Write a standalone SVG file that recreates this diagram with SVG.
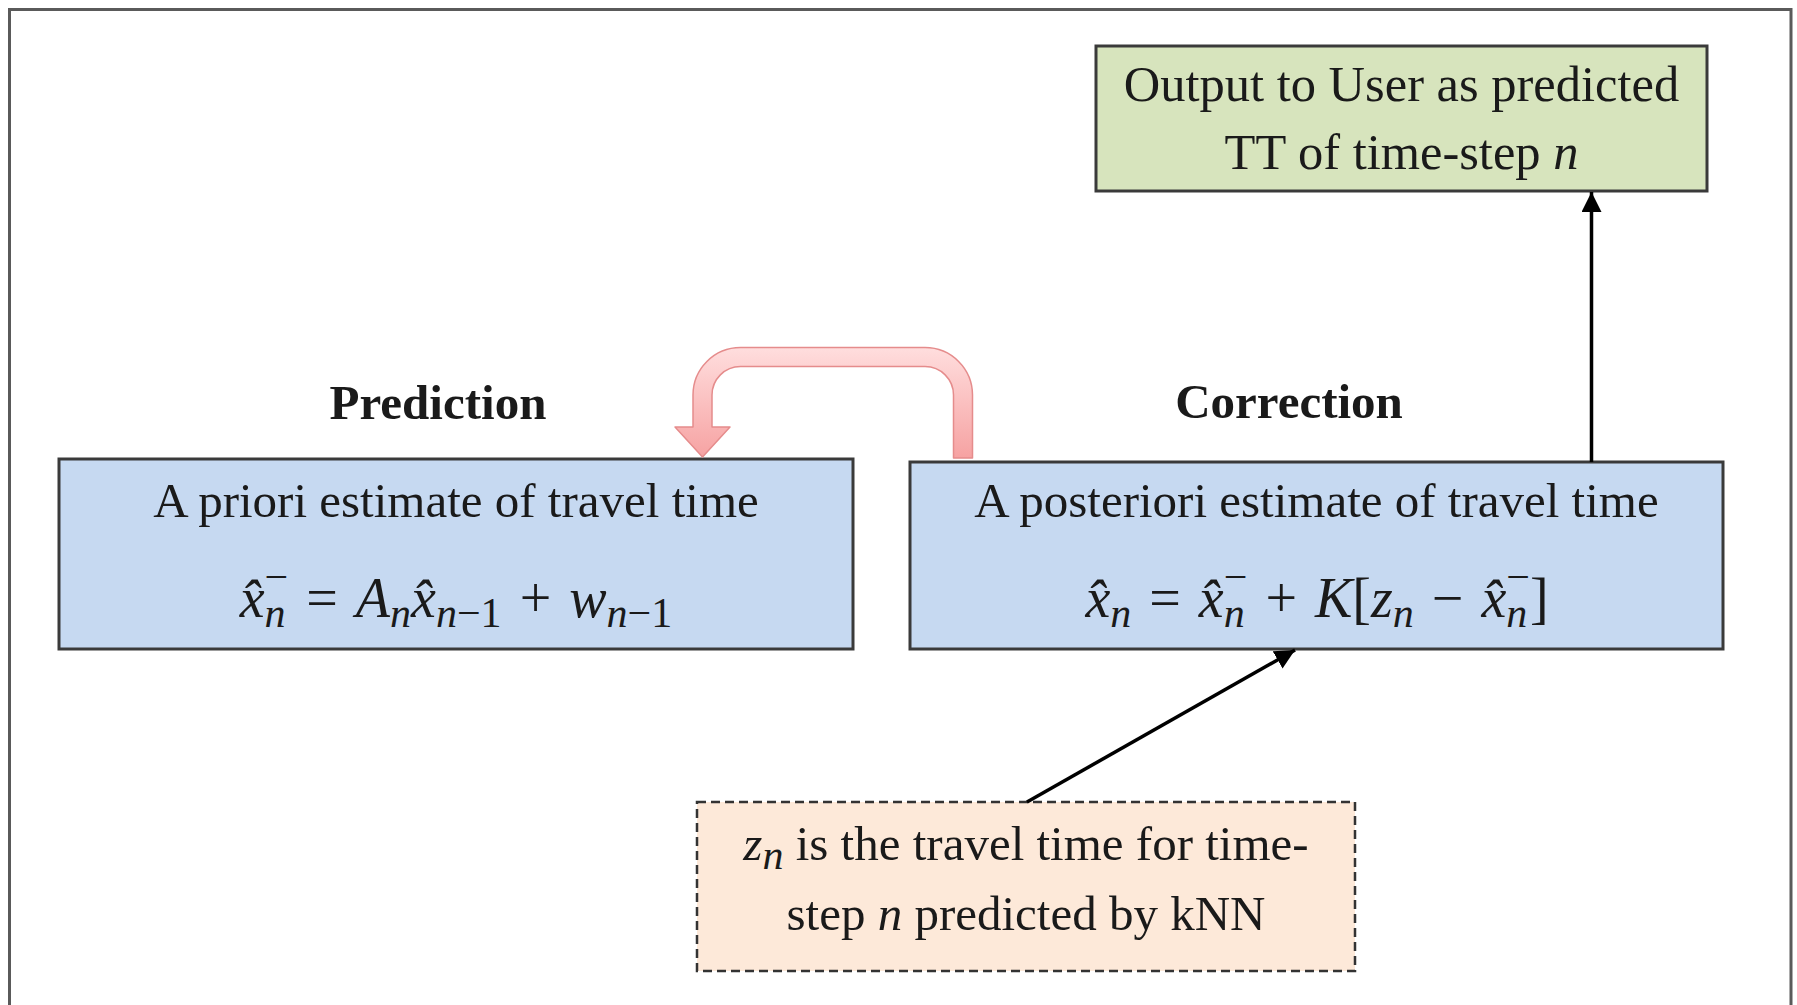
<svg xmlns="http://www.w3.org/2000/svg" width="1797" height="1005" viewBox="0 0 1797 1005">
<style>
.t{font-family:"Liberation Serif","Times New Roman",serif;font-size:49px;fill:#1a1a1a}
.g{font-size:50.5px}
.b{font-weight:bold}
.i{font-style:italic}
.m{font-size:56px}
.s{font-size:42px}
.box{stroke:#3a3a3a;stroke-width:3}
.ln{stroke:#000;stroke-width:3.5;fill:none}
</style>
<defs>
<marker id="ah" markerUnits="userSpaceOnUse" markerWidth="22" markerHeight="22" refX="20" refY="10" orient="auto">
<path d="M0,0 L20,10 L0,20 Z" fill="#000"/>
</marker>
<linearGradient id="rg" gradientUnits="userSpaceOnUse" x1="0" y1="347" x2="0" y2="458">
<stop offset="0" stop-color="#ffdede"/>
<stop offset="1" stop-color="#f6a2a2"/>
</linearGradient>
</defs>
<rect x="0" y="0" width="1797" height="1005" fill="#fff"/>
<path d="M9.5,1005 V9.5 H1791 V1005" fill="none" stroke="#5a5a5a" stroke-width="3"/>

<g id="output">
<rect class="box" x="1096" y="46" width="611" height="145" fill="#d7e4bd"/>
<text class="t g" x="1401.5" y="101" text-anchor="middle">Output to User as predicted</text>
<text class="t g" x="1401.5" y="169" text-anchor="middle">TT of time-step <tspan class="i">n</tspan></text>
</g>

<g id="label-prediction">
<text class="t b" x="438" y="419" text-anchor="middle">Prediction</text>
</g>
<g id="label-correction">
<text class="t b" x="1289" y="418" text-anchor="middle">Correction</text>
</g>

<g id="prediction">
<rect class="box" x="59" y="459" width="794" height="190" fill="#c6d9f1"/>
<text class="t" x="456" y="517" text-anchor="middle">A priori estimate of travel time</text>
<text class="t m" x="456" y="617" text-anchor="middle"><tspan class="i">x̂</tspan><tspan class="i s" dy="10">n</tspan><tspan class="s" dx="-21" dy="-36">−</tspan><tspan dx="4" dy="26"> = </tspan><tspan class="i" dx="4">A</tspan><tspan class="i s" dy="10">n</tspan><tspan class="i" dy="-10">x̂</tspan><tspan class="s" dy="10"><tspan class="i">n</tspan>−1</tspan><tspan dx="4" dy="-10"> + </tspan><tspan class="i" dx="4">w</tspan><tspan class="s" dy="10"><tspan class="i">n</tspan>−1</tspan></text>
</g>

<g id="correction">
<rect class="box" x="910" y="462" width="813" height="187" fill="#c6d9f1"/>
<text class="t" x="1316.5" y="517" text-anchor="middle">A posteriori estimate of travel time</text>
<text class="t m" x="1317" y="617" text-anchor="middle"><tspan class="i">x̂</tspan><tspan class="i s" dy="10">n</tspan><tspan dx="4" dy="-10"> = </tspan><tspan class="i" dx="4">x̂</tspan><tspan class="i s" dy="10">n</tspan><tspan class="s" dx="-21" dy="-36">−</tspan><tspan dx="4" dy="26"> + </tspan><tspan class="i" dx="4">K</tspan>[<tspan class="i">z</tspan><tspan class="i s" dy="10">n</tspan><tspan dx="4" dy="-10"> − </tspan><tspan class="i" dx="4">x̂</tspan><tspan class="i s" dy="10">n</tspan><tspan class="s" dx="-21" dy="-36">−</tspan><tspan dy="26">]</tspan></text>
</g>

<g id="knn">
<rect x="697" y="802" width="658" height="169" fill="#fde9d9" stroke="#333" stroke-width="2.5" stroke-dasharray="9 5"/>
<text class="t" x="1026" y="860" text-anchor="middle"><tspan class="i">z</tspan><tspan class="i s" dy="9">n</tspan><tspan dy="-9"> is the travel time for time-</tspan></text>
<text class="t" x="1026" y="930" text-anchor="middle">step <tspan class="i">n</tspan> predicted by kNN</text>
</g>

<g id="connectors">
<path d="M972.5,458 L972.5,395 A47.5,47.5 0 0 0 925,347.5 L740.5,347.5 A47.5,47.5 0 0 0 693,395 L693,427 L675,427 L702.5,457 L730,427 L712,427 L712,395 A28.5,28.5 0 0 1 740.5,366.5 L925,366.5 A28.5,28.5 0 0 1 953.5,395 L953.5,458 Z" fill="url(#rg)" stroke="#e58c8c" stroke-width="1.5" stroke-linejoin="round"/>
<line class="ln" x1="1591.5" y1="462" x2="1591.5" y2="192" marker-end="url(#ah)"/>
<line class="ln" x1="1027" y1="802" x2="1295" y2="650" marker-end="url(#ah)"/>
</g>
</svg>
